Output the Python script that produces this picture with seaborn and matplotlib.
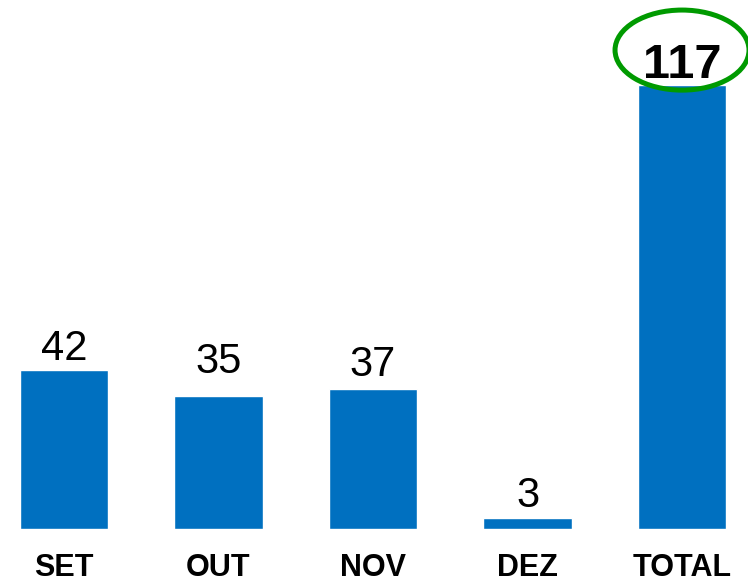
import matplotlib
matplotlib.use('Agg')
import matplotlib.pyplot as plt
from matplotlib.patches import Ellipse
import seaborn as sns
import pandas as pd

# --- dados ---
meses = ['SET', 'OUT', 'NOV', 'DEZ', 'TOTAL']
valores = [42, 35, 37, 3, 117]
# deslocamento do rótulo acima da barra (pontos)
label_pad = [7, 17, 9, 8, 5]

df = pd.DataFrame({'mes': meses, 'valor': valores})

sns.set_theme(style='white')
plt.rcParams['font.family'] = ['Liberation Sans', 'DejaVu Sans']

fig = plt.figure(figsize=(7.48, 5.82), dpi=100)
ax = fig.add_axes([0, 53 / 582, 1, 529 / 582])

sns.barplot(data=df, x='mes', y='valor', color='#0070C0', width=0.57,
            saturation=1, ax=ax)

ax.set_xlim(-0.414, 4.427)
ax.set_ylim(0, 139.4)

# rótulos de valor
for i, (v, pad) in enumerate(zip(valores, label_pad)):
    is_total = meses[i] == 'TOTAL'
    ax.annotate(str(v), (i, v), xytext=(0, pad), textcoords='offset points',
                ha='center', va='baseline',
                fontsize=35 if is_total else 30,
                fontweight='bold' if is_total else 'normal', color='black')

# destaque do total
i_tot = meses.index('TOTAL')
ax.add_patch(Ellipse((i_tot, valores[i_tot] + 9.2), width=0.867, height=21.1,
                     fill=False, edgecolor='#009A00', linewidth=3.6,
                     clip_on=False))

ax.set_xlabel('')
ax.set_ylabel('')
ax.set_yticks([])
ax.tick_params(axis='x', length=0, pad=17)
for lab in ax.get_xticklabels():
    lab.set_fontsize(22)
    lab.set_fontweight('bold')
    lab.set_color('black')
sns.despine(ax=ax, left=True, bottom=True)

plt.savefig('out.png', dpi=100)
